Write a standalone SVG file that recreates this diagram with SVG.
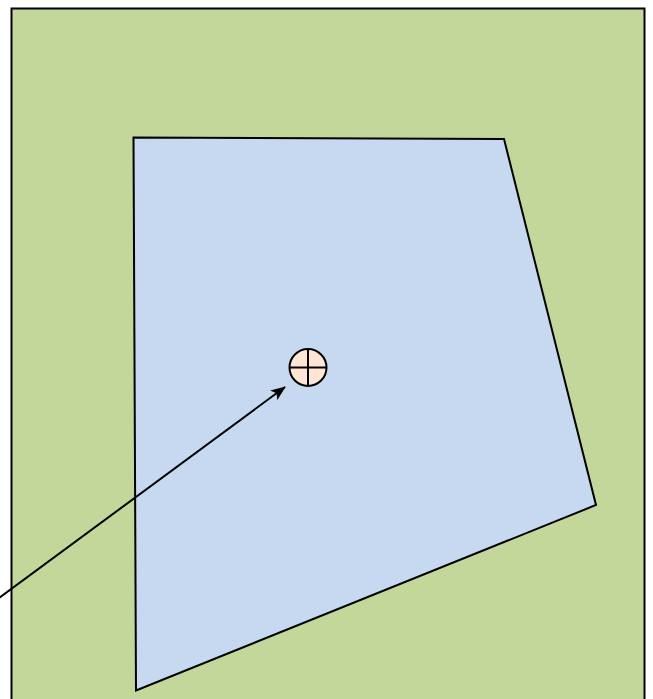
<svg xmlns="http://www.w3.org/2000/svg" width="653" height="699" viewBox="0 0 653 699">
<defs>
<style>
.s{stroke:#000;stroke-width:2;}
</style>
<marker id="ah" markerWidth="15" markerHeight="12" refX="14" refY="6" orient="auto" markerUnits="userSpaceOnUse" viewBox="0 0 15 12">
<path d="M0,0 L15,6 L0,12 L3.5,6 Z" fill="#000"/>
</marker>
</defs>
<rect width="653" height="699" fill="#ffffff"/>
<g id="area">
<rect class="s" x="11.5" y="8.5" width="633" height="700" fill="#c4d79b"/>
</g>
<g id="polygon">
<polygon class="s" points="133.5,137.5 504,139 596,505 136,690.5" fill="#c6d9f0" stroke-linejoin="miter"/>
</g>
<g id="marker-point">
<circle class="s" cx="308" cy="367.5" r="18.5" fill="#ffe6d4"/>
<line class="s" x1="308" y1="349" x2="308" y2="386"/>
<line class="s" x1="289.5" y1="367.5" x2="326.5" y2="367.5"/>
</g>
<g id="connectors">
<line class="s" x1="-5" y1="601" x2="285" y2="387" marker-end="url(#ah)" stroke-width="1.5"/>
</g>
</svg>
